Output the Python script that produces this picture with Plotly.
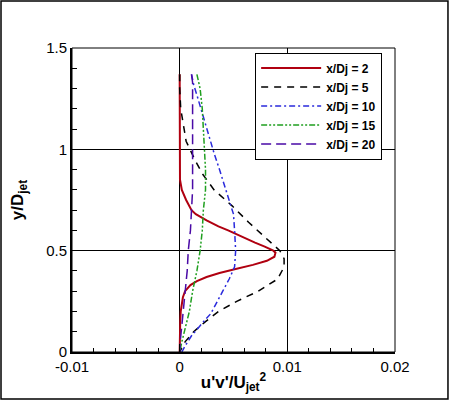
import plotly.graph_objects as go

# Reynolds shear stress profiles u'v'/Ujet^2 against y/Djet

# x/Dj = 2
y_2 = [1.37, 1.2, 1.0, 0.9, 0.85, 0.8, 0.75, 0.7, 0.68, 0.65, 0.62, 0.6, 0.57, 0.54, 0.52,
       0.5, 0.49, 0.47, 0.45, 0.43, 0.41, 0.39, 0.37, 0.35, 0.33, 0.3, 0.27, 0.24, 0.2,
       0.15, 0.1, 0.05, 0.0]
uv_2 = [0.0, 0.0, 0.0, 0.0, 0.00003, 0.0002, 0.0006, 0.0011, 0.0015, 0.0025, 0.0036, 0.0045,
        0.0057, 0.007, 0.0079, 0.0087, 0.0089, 0.0088, 0.0081, 0.0068, 0.0052, 0.0037, 0.0025,
        0.0016, 0.001, 0.0005, 0.0003, 0.0002, 0.0001, 0.00005, 0.00003, 0.00001, 0.0]

# x/Dj = 5
y_5 = [1.37, 1.3, 1.2, 1.13, 1.04, 0.95, 0.88, 0.8, 0.72, 0.64, 0.57, 0.5, 0.46, 0.42,
       0.36, 0.3, 0.25, 0.2, 0.15, 0.1, 0.05, 0.0]
uv_5 = [0.0, 0.0, 0.0001, 0.0003, 0.0006, 0.0014, 0.0021, 0.0032, 0.0049, 0.0064, 0.0079,
        0.0093, 0.0097, 0.0097, 0.0091, 0.0073, 0.0053, 0.0036, 0.0024, 0.0013, 0.0005, 0.0]

# x/Dj = 10
y_10 = [1.37, 1.32, 1.25, 1.14, 1.05, 0.98, 0.9, 0.8, 0.75, 0.68, 0.6, 0.5, 0.42, 0.36,
        0.3, 0.25, 0.19, 0.13, 0.08, 0.03, 0.0]
uv_10 = [0.0011, 0.0013, 0.0017, 0.0023, 0.0028, 0.0032, 0.0037, 0.0043, 0.0046, 0.005,
         0.0051, 0.0052, 0.0051, 0.0046, 0.004, 0.0035, 0.0029, 0.0019, 0.0011, 0.0005, 0.0002]

# x/Dj = 15
y_15 = [1.37, 1.3, 1.2, 1.1, 1.0, 0.9, 0.8, 0.7, 0.6, 0.5, 0.4, 0.3, 0.2, 0.12, 0.05, 0.0]
uv_15 = [0.0016, 0.0019, 0.0021, 0.0022, 0.0023, 0.0024, 0.0024, 0.0022, 0.0021, 0.0019,
         0.0016, 0.0012, 0.0009, 0.0005, 0.0002, 0.0]

# x/Dj = 20
y_20 = [1.37, 1.33, 1.2, 1.0, 0.8, 0.6, 0.5, 0.4, 0.3, 0.25, 0.2, 0.15, 0.1, 0.05, 0.0]
uv_20 = [0.0011, 0.0012, 0.0012, 0.0012, 0.0012, 0.001, 0.0008, 0.0007, 0.0005, 0.0004,
         0.0003, 0.0002, 0.0001, 0.00005, 0.0]

x_ticks = [-0.01, 0, 0.01, 0.02]
x_tick_labels = ["-0.01", "0", "0.01", "0.02"]
y_ticks = [0, 0.5, 1, 1.5]
y_tick_labels = ["0", "0.5", "1", "1.5"]

fig = go.Figure()

fig.add_trace(go.Scatter(x=uv_2, y=y_2, mode='lines', name='x/Dj = 2',
                         line=dict(color='#b00010', width=2)))
fig.add_trace(go.Scatter(x=uv_5, y=y_5, mode='lines', name='x/Dj = 5',
                         line=dict(color='black', width=1.5, dash='7px,6px')))
fig.add_trace(go.Scatter(x=uv_10, y=y_10, mode='lines', name='x/Dj = 10',
                         line=dict(color='#2a2adc', width=1.5, dash='6px,3px,2px,3px')))
fig.add_trace(go.Scatter(x=uv_15, y=y_15, mode='lines', name='x/Dj = 15',
                         line=dict(color='#1f9f1f', width=1.5, dash='6px,2px,2px,2px,2px,2px')))
fig.add_trace(go.Scatter(x=uv_20, y=y_20, mode='lines', name='x/Dj = 20',
                         line=dict(color='#4a0aa6', width=1.5, dash='10px,5px')))

font_name = 'Liberation Sans, Arial, sans-serif'

fig.update_layout(
    width=450, height=401,
    margin=dict(l=72, r=55, t=48, b=49),
    plot_bgcolor='white', paper_bgcolor='white',
    font=dict(family=font_name, color='black', size=14),
    legend=dict(x=0.567, y=0.985, xanchor='left', yanchor='top',
                bgcolor='white', bordercolor='black', borderwidth=1,
                font=dict(family=font_name, size=12, weight='bold'),
                itemwidth=60, tracegroupgap=0),
    shapes=[
        # plot box
        dict(type='rect', xref='paper', yref='paper', x0=0, x1=1, y0=0, y1=1,
             line=dict(color='black', width=1), layer='above'),
        # outer frame
        dict(type='rect', xref='paper', yref='paper', x0=-0.2198, x1=1.164,
             y0=-0.1546, y1=1.1546, line=dict(color='black', width=1.5)),
    ],
)

fig.update_xaxes(
    range=[-0.01, 0.02], tickvals=x_ticks, ticktext=x_tick_labels,
    ticks='inside', ticklen=8, tickwidth=1, tickcolor='black',
    minor=dict(dtick=0.002, ticks='inside', ticklen=4, tickcolor='black', showgrid=False),
    showgrid=True, gridcolor='black', gridwidth=1, zeroline=False,
    showline=True, linewidth=2, linecolor='black',
    tickfont=dict(size=15), automargin=False,
    title=dict(text="u'v'/U<sub>jet</sub><sup>2</sup>", standoff=2,
               font=dict(size=17, weight='bold')),
)
fig.update_yaxes(
    range=[0, 1.5], tickvals=y_ticks, ticktext=y_tick_labels,
    ticks='inside', ticklen=8, tickwidth=1, tickcolor='black',
    minor=dict(dtick=0.1, ticks='inside', ticklen=5, tickcolor='black', showgrid=False),
    showgrid=True, gridcolor='black', gridwidth=1, zeroline=False,
    showline=True, linewidth=2, linecolor='black',
    tickfont=dict(size=15), automargin=False,
    title=dict(text='y/D<sub>jet</sub>', standoff=18,
               font=dict(size=17, weight='bold')),
)

# drop the page's default body margin so the figure sits at the window corner
fig.write_html("out.html", config={'displayModeBar': False},
               post_script="document.body.style.margin='0';")
